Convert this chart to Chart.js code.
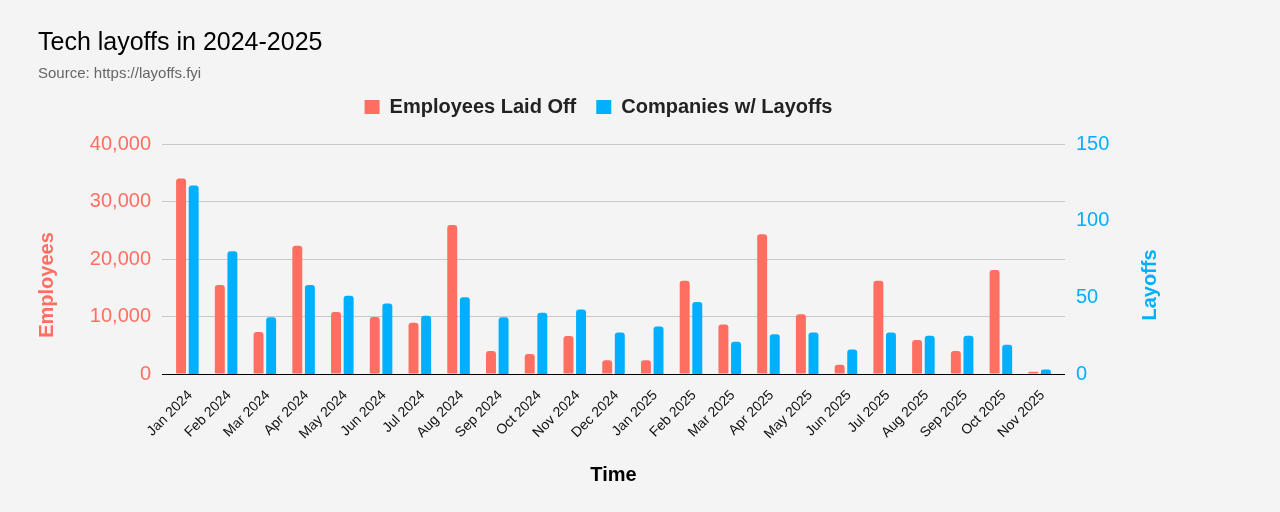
<!DOCTYPE html>
<html>
<head>
<meta charset="utf-8">
<script src="https://cdn.jsdelivr.net/npm/chart.js@4.4.1/dist/chart.umd.min.js"></script>
<style>
  html, body { margin: 0; padding: 0; background: #f4f4f4; }
  #wrap { width: 1280px; height: 512px; }
</style>
</head>
<body>
<div id="wrap"><canvas id="c" width="1280" height="512"></canvas></div>
<script>
const months = ['Jan 2024','Feb 2024','Mar 2024','Apr 2024','May 2024','Jun 2024','Jul 2024','Aug 2024','Sep 2024','Oct 2024','Nov 2024','Dec 2024',
                'Jan 2025','Feb 2025','Mar 2025','Apr 2025','May 2025','Jun 2025','Jul 2025','Aug 2025','Sep 2025','Oct 2025','Nov 2025'];
const employeesLaidOff = [34000, 15500, 7300, 22300, 10800, 9900, 8900, 25900, 4000, 3500, 6600, 2400,
                          2400, 16200, 8600, 24300, 10400, 1600, 16200, 5900, 4000, 18100, 400];
const companiesWithLayoffs = [123, 80, 37, 58, 51, 46, 38, 50, 37, 40, 42, 27,
                              31, 47, 21, 26, 27, 16, 27, 25, 25, 19, 3];
const leftTicks = [0, 10000, 20000, 30000, 40000];
const rightTicks = [0, 50, 100, 150];

const RED = '#ff6f61';
const BLUE = '#00b0ff';
const GRID = '#c9c9c9';
const FONT = '"Liberation Sans", Arial, Helvetica, sans-serif';

Chart.defaults.font.family = FONT;

const gridColor = (ctx) => (ctx.tick && ctx.tick.value === 0) ? '#000000' : GRID;

const axisTitles = {
  id: 'axisTitles',
  afterDraw(chart) {
    const { ctx, chartArea, scales } = chart;
    const yMid = (chartArea.top + chartArea.bottom) / 2 + 26;
    ctx.save();
    ctx.font = 'bold 20px ' + FONT;
    ctx.textAlign = 'center';
    ctx.textBaseline = 'alphabetic';
    const items = [
      { x: scales.y.left + 14.6, text: 'Employees', color: RED },
      { x: scales.y1.right - 3, text: 'Layoffs', color: BLUE }
    ];
    items.forEach(it => {
      ctx.save();
      ctx.translate(it.x, yMid);
      ctx.rotate(-Math.PI / 2);
      ctx.fillStyle = it.color;
      ctx.fillText(it.text, 0, 0);
      ctx.restore();
    });
    ctx.restore();
  }
};

new Chart(document.getElementById('c'), {
  type: 'bar',
  data: {
    labels: months,
    datasets: [
      { label: 'Employees Laid Off', data: employeesLaidOff, backgroundColor: RED, yAxisID: 'y', xAxisID: 'x',
        borderRadius: 3, barPercentage: 0.79, categoryPercentage: 0.65 },
      { label: 'Companies w/ Layoffs', data: companiesWithLayoffs, backgroundColor: BLUE, yAxisID: 'y1', xAxisID: 'x',
        borderRadius: 3, barPercentage: 0.79, categoryPercentage: 0.65 }
    ]
  },
  options: {
    responsive: false,
    animation: false,
    devicePixelRatio: 1,
    layout: { padding: { left: 38, right: 121, top: 0, bottom: 0 } },
    plugins: {
      title: {
        display: true, text: 'Tech layoffs in 2024-2025', align: 'start', color: '#000000',
        font: { size: 25, weight: 'normal', lineHeight: 1.2 }, padding: { top: 28, bottom: 12 }
      },
      subtitle: {
        display: true, text: 'Source: https://layoffs.fyi', align: 'start', color: '#666666',
        font: { size: 15, weight: 'normal', lineHeight: 0.4667 }, padding: { top: 0, bottom: 0 }
      },
      legend: {
        display: true, position: 'top', align: 'center',
        labels: { color: '#222222', font: { size: 20, weight: 'bold' }, boxWidth: 15, boxHeight: 14, padding: 20 }
      },
      tooltip: { enabled: false }
    },
    scales: {
      x: {
        type: 'category', position: 'bottom',
        grid: { display: false }, border: { display: false },
        ticks: { color: '#111111', font: { size: 14 }, minRotation: 45, maxRotation: 45, autoSkip: false, labelOffset: 3, padding: 5 },
        title: { display: true, text: 'Time', color: '#000000', font: { size: 20, weight: 'bold' }, padding: { top: 0, bottom: 25 } },
        afterFit: (s) => { s.height = 138; }
      },
      xPad: {
        type: 'category', position: 'top', display: true,
        grid: { display: false }, border: { display: false }, ticks: { display: false },
        afterFit: (s) => { s.height = 17; }
      },
      y: {
        position: 'left', min: 0, max: 40000,
        afterBuildTicks: (s) => { s.ticks = leftTicks.map(v => ({ value: v })); },
        grid: { color: gridColor, tickLength: 6, drawTicks: true, lineWidth: 1 },
        border: { display: false },
        ticks: { color: RED, font: { size: 20 }, padding: 11, callback: (v) => v.toLocaleString('en-US') },
        afterFit: (s) => { s.width = 130; }
      },
      y3: {
        position: 'right', min: 0, max: 40000, weight: 0,
        afterBuildTicks: (s) => { s.ticks = leftTicks.map(v => ({ value: v })); },
        grid: { color: gridColor, tickLength: 6, drawTicks: true, drawOnChartArea: false },
        border: { display: false },
        ticks: { display: false },
        afterFit: (s) => { s.width = 6; }
      },
      y1: {
        position: 'right', min: 0, max: 150, weight: 1,
        afterBuildTicks: (s) => { s.ticks = rightTicks.map(v => ({ value: v })); },
        grid: { display: false, drawTicks: false }, border: { display: false },
        ticks: { color: BLUE, font: { size: 20 }, padding: 11 },
        afterFit: (s) => { s.width = 94; }
      }
    }
  },
  plugins: [axisTitles]
});
</script>
</body>
</html>
